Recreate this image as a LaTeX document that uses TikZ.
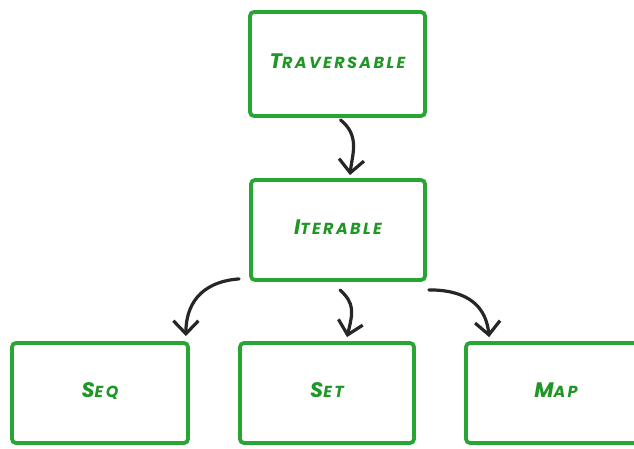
\documentclass[tikz,border=0pt]{standalone}
\usepackage{fontspec}
\setmainfont{Poppins}[LetterSpace=15]
\usetikzlibrary{arrows.meta}
\definecolor{boxgreen}{RGB}{40,165,50}
\definecolor{textgreen}{RGB}{32,150,38}
\newcommand{\fsc}[2]{\raisebox{6pt}{{\fontsize{21}{21}\selectfont #1}{\fontsize{16}{16}\selectfont #2}}}
\tikzset{
  cls/.style={draw=boxgreen, line width=3.8pt, rounded corners=4pt, fill=white,
    inner sep=0pt, text=textgreen, font=\bfseries\itshape},
  link/.style={draw=black!85, line width=3.2pt, line cap=round,
    -{Straight Barb[length=13pt,width=25pt,line width=3.2pt]}}
}
\begin{document}
\begin{tikzpicture}[x=1pt,y=-1pt]
\useasboundingbox (0,0) rectangle (634,449);
\clip (0,0) rectangle (634,449);
\node[cls, minimum width=175pt, minimum height=104pt] (trav) at (337.5,64) {\fsc{T}{RAVERSABLE}};
\node[cls, minimum width=174pt, minimum height=100pt] (iter) at (338,230) {\fsc{I}{TERABLE}};
\node[cls, minimum width=176pt, minimum height=100pt] (seq) at (100,393) {\fsc{S}{EQ}};
\node[cls, minimum width=174pt, minimum height=100pt] (set) at (327,393) {\fsc{S}{ET}};
\node[cls, minimum width=180pt, minimum height=100pt] (map) at (556,393) {\fsc{M}{AP}};
\draw[link] ([xshift=3pt,yshift=-2pt]trav.south) .. controls +(20,16) and +(2,-20) .. ([xshift=12pt,yshift=3pt]iter.north);
\draw[link] ([xshift=-10pt,yshift=3pt]iter.south west) .. controls +(-40,3) and +(0,-30) .. ([xshift=-4pt,yshift=5pt]seq.north east);
\draw[link] ([xshift=2pt,yshift=-8pt]iter.south) .. controls +(15,14) and +(6,-25) .. ([xshift=20pt,yshift=4pt]set.north);
\draw[link] ([xshift=2pt,yshift=-8pt]iter.south east) .. controls +(40,0) and +(-3,-30) .. ([xshift=25pt,yshift=4pt]map.north west);
\end{tikzpicture}
\end{document}
